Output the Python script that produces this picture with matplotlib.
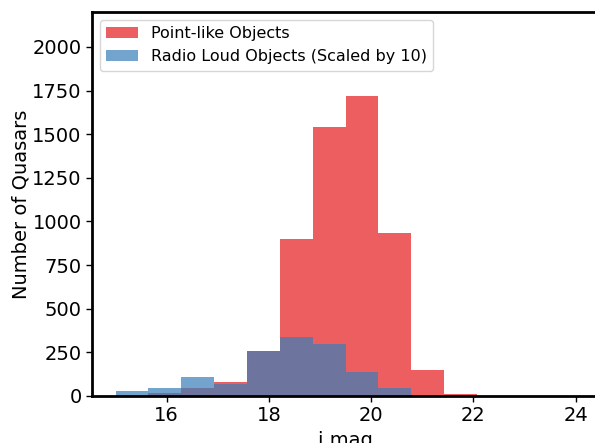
import matplotlib
matplotlib.use("Agg")
import matplotlib.pyplot as plt
import numpy as np

# bin edges of the i-band magnitude histogram (14 bins from 15 to 24)
bin_edges = np.linspace(15, 24, 15)

point_like = [3, 19, 48, 82, 255, 900, 1541, 1719, 934, 150, 12, 0, 0, 0]
radio_loud_x10 = [29, 48, 109, 69, 260, 340, 298, 137, 48, 0, 0, 0, 0, 0]

labels = ["Point-like Objects", "Radio Loud Objects (Scaled by 10)"]
colors = ["#e41a1c", "#377eb8"]

fig = plt.figure(figsize=(5.95, 4.43), dpi=100)
ax = fig.add_axes([0.1546, 0.1061, 0.8516, 0.8668])

widths = np.diff(bin_edges)
ax.bar(bin_edges[:-1], point_like, width=widths, align="edge",
       color=colors[0], alpha=0.7, label=labels[0])
ax.bar(bin_edges[:-1], radio_loud_x10, width=widths, align="edge",
       color=colors[1], alpha=0.7, label=labels[1])

ax.set_xlim(14.54, 24.45)
ax.set_ylim(0, 2200)
ax.set_xticks([16, 18, 20, 22, 24])
ax.set_yticks(range(0, 2001, 250))
ax.set_xlabel("i mag", fontsize=14)
ax.set_ylabel("Number of Quasars", fontsize=14, labelpad=1)
ax.tick_params(labelsize=14, width=1, length=4)
for s in ax.spines.values():
    s.set_linewidth(2)

ax.legend(loc="upper left", fontsize=11.5)

plt.savefig("out.png", dpi=100)
